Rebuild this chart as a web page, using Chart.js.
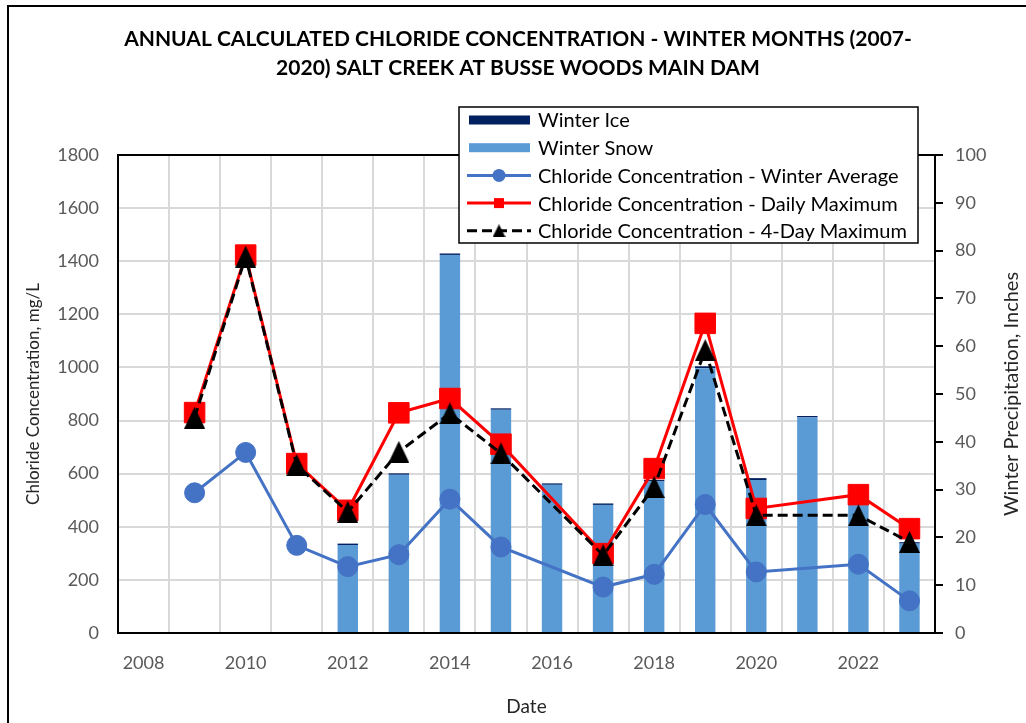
<!DOCTYPE html>
<html>
<head>
<meta charset="utf-8">
<title>Annual Calculated Chloride Concentration - Salt Creek at Busse Woods</title>
<script src="https://cdn.jsdelivr.net/npm/chart.js@4.4.1/dist/chart.umd.min.js"></script>
<style>
  body { margin: 0; background: #fff; }
  #wrap { width: 1026px; height: 723px; position: relative; }
</style>
</head>
<body>
<div id="wrap"><canvas id="chlorideChart"></canvas></div>
<script>
// data
const years = [2008, 2009, 2010, 2011, 2012, 2013, 2014, 2015, 2016, 2017, 2018, 2019, 2020, 2021, 2022, 2023];
const labelledYears = [2008, 2010, 2012, 2014, 2016, 2018, 2020, 2022];

// precipitation, inches (right axis)
const winterSnow = [null, null, null, null, 18.4, 33.1, 79.1, 46.7, 31.0, 26.8, 31.7, 55.4, 32.0, 45.1, 26.7, 18.7];
const winterIce = [null, null, null, null, 0.3, 0.3, 0.3, 0.3, 0.3, 0.3, 0.3, 0.4, 0.4, 0.3, 0.3, 0.3];

// chloride, mg/L (left axis)
const winterAverage = [null, 528, 680, 330, 250, 295, 504, 324, null, 173, 221, 484, 230, null, 259, 121];
const dailyMaximum = [null, 830, 1423, 638, 462, 829, 883, 711, null, 299, 619, 1166, 469, null, 521, 393];
const fourDayMaximum = [null, 811, 1417, 632, 456, 682, 827, 676, null, 293, 550, 1065, 443, null, 443, 343];

// axis ranges: [min, max, step]
const concAxis = [0, 1800, 200];
const precipAxis = [0, 100, 10];

Chart.defaults.font.family = "Lato, 'Liberation Sans', sans-serif";

// Excel style triangle marker, centred on its box
function triangleMarker(w, h) {
  const c = document.createElement("canvas");
  c.width = w;
  c.height = h;
  const g = c.getContext("2d");
  g.fillStyle = "#000";
  g.beginPath();
  g.moveTo(w / 2, 0);
  g.lineTo(w, h);
  g.lineTo(0, h);
  g.closePath();
  g.fill();
  return c;
}
const bigTriangle = triangleMarker(21, 22);
const smallTriangle = triangleMarker(13, 13);

const extras = {
  id: "extras",
  afterDatasetsDraw(chart) {
    const { ctx, chartArea: a } = chart;
    ctx.save();
    ctx.strokeStyle = "#000";
    ctx.lineWidth = 2;
    ctx.strokeRect(a.left, a.top, a.right - a.left, a.bottom - a.top);
    ctx.restore();
  },
  afterDraw(chart) {
    const { ctx, chartArea: a } = chart;
    ctx.save();

    // outer frame, right and bottom edges run off the picture
    ctx.strokeStyle = "#000";
    ctx.lineWidth = 2;
    ctx.beginPath();
    ctx.moveTo(8, 730);
    ctx.lineTo(8, 6);
    ctx.lineTo(1030, 6);
    ctx.stroke();

    // right axis title reads bottom to top like the left one
    ctx.fillStyle = "#262626";
    ctx.font = "20px Lato";
    ctx.textAlign = "center";
    ctx.textBaseline = "middle";
    ctx.translate(1012, (a.top + a.bottom) / 2);
    ctx.rotate(-Math.PI / 2);
    ctx.fillText("Winter Precipitation, Inches", 0, 0);
    ctx.setTransform(1, 0, 0, 1, 0, 0);

    // legend
    const bx = 459, by = 107, bw = 459, bh = 136;
    ctx.fillStyle = "#fff";
    ctx.fillRect(bx, by, bw, bh);
    ctx.strokeStyle = "#000";
    ctx.lineWidth = 1.5;
    ctx.strokeRect(bx, by, bw, bh);

    const ds = chart.data.datasets;
    const rows = [ds[1], ds[0], ds[2], ds[3], ds[4]];
    rows.forEach(function (d, i) {
      const y = 120 + i * 27.7;
      if (d.type === "bar") {
        ctx.fillStyle = d.backgroundColor;
        ctx.fillRect(469, y - 4.5, 61, 9);
      } else {
        ctx.strokeStyle = d.borderColor;
        ctx.lineWidth = 3;
        ctx.setLineDash(d.borderDash || []);
        ctx.beginPath();
        ctx.moveTo(467, y);
        ctx.lineTo(531, y);
        ctx.stroke();
        ctx.setLineDash([]);
        ctx.fillStyle = d.pointBackgroundColor;
        if (d.pointStyle === "circle") {
          ctx.beginPath();
          ctx.arc(499, y, 6.5, 0, Math.PI * 2);
          ctx.fill();
        } else if (d.pointStyle === "rect") {
          ctx.fillRect(494, y - 5, 10, 10);
        } else {
          ctx.drawImage(smallTriangle, 499 - 6.5, y - 6.5);
        }
      }
      ctx.fillStyle = "#000";
      ctx.font = "20px Lato";
      ctx.textAlign = "left";
      ctx.textBaseline = "middle";
      ctx.fillText(d.label, 538, y + 1);
    });
    ctx.restore();
  }
};

const ctx = document.getElementById("chlorideChart").getContext("2d");
const chart = new Chart(ctx, {
  type: "bar",
  data: {
    labels: years,
    datasets: [
      {
        type: "bar",
        label: "Winter Snow",
        data: winterSnow,
        yAxisID: "y1",
        stack: "precip",
        backgroundColor: "#5B9BD5",
        barPercentage: 0.4,
        categoryPercentage: 1,
        order: 4,
      },
      {
        type: "bar",
        label: "Winter Ice",
        data: winterIce,
        yAxisID: "y1",
        stack: "precip",
        backgroundColor: "#002060",
        barPercentage: 0.4,
        categoryPercentage: 1,
        order: 5,
      },
      {
        type: "line",
        label: "Chloride Concentration - Winter Average",
        data: winterAverage,
        yAxisID: "y",
        borderColor: "#4472C4",
        borderWidth: 3,
        pointStyle: "circle",
        pointRadius: 10,
        pointBorderWidth: 1,
        pointBackgroundColor: "#4472C4",
        pointBorderColor: "#4472C4",
        spanGaps: true,
        order: 3,
      },
      {
        type: "line",
        label: "Chloride Concentration - Daily Maximum",
        data: dailyMaximum,
        yAxisID: "y",
        borderColor: "#FF0000",
        borderWidth: 3,
        pointStyle: "rect",
        pointRadius: 14.5,
        pointBorderWidth: 1,
        pointBackgroundColor: "#FF0000",
        pointBorderColor: "#FF0000",
        spanGaps: true,
        order: 2,
      },
      {
        type: "line",
        label: "Chloride Concentration - 4-Day Maximum",
        data: fourDayMaximum,
        yAxisID: "y",
        borderColor: "#000000",
        borderWidth: 3,
        borderDash: [10, 5],
        pointStyle: bigTriangle,
        pointBackgroundColor: "#000000",
        spanGaps: true,
        order: 1,
      },
    ],
  },
  options: {
    responsive: true,
    maintainAspectRatio: false,
    animation: false,
    layout: { padding: { left: 10, right: 0, top: 0, bottom: 0 } },
    plugins: {
      legend: { display: false },
      tooltip: { enabled: false },
      title: {
        display: true,
        text: [
          "ANNUAL CALCULATED CHLORIDE CONCENTRATION - WINTER MONTHS (2007-",
          "2020) SALT CREEK AT BUSSE WOODS MAIN DAM",
        ],
        color: "#000",
        font: { size: 21, weight: "bold", lineHeight: "29px" },
        padding: { top: 25, bottom: 72 },
      },
    },
    scales: {
      x: {
        stacked: true,
        offset: true,
        grid: { offset: true, color: "#d9d9d9", lineWidth: 2, drawTicks: false },
        border: { display: true, color: "#000", width: 2 },
        ticks: {
          autoSkip: false,
          maxRotation: 0,
          padding: 19,
          color: "#595959",
          font: { size: 18 },
          callback: function (value, index) {
            const yr = years[index];
            return labelledYears.includes(yr) ? String(yr) : "";
          },
        },
        title: {
          display: true,
          text: "Date",
          color: "#262626",
          font: { size: 19 },
          padding: { top: 0, bottom: 5 },
        },
        afterFit: function (scale) {
          scale.height = 90;
        },
      },
      y: {
        position: "left",
        min: concAxis[0],
        max: concAxis[1],
        ticks: {
          stepSize: concAxis[2],
          padding: 19,
          color: "#595959",
          font: { size: 18 },
          callback: function (value) {
            return String(value);
          },
        },
        grid: { color: "#d9d9d9", lineWidth: 2, drawTicks: false },
        border: { display: true, color: "#000", width: 2 },
        title: {
          display: true,
          text: "Chloride Concentration, mg/L",
          color: "#262626",
          font: { size: 17 },
          padding: { top: 13, bottom: 0 },
        },
        afterFit: function (scale) {
          scale.width = 108;
        },
      },
      y1: {
        position: "right",
        stacked: true,
        min: precipAxis[0],
        max: precipAxis[1],
        ticks: { stepSize: precipAxis[2], padding: 12, color: "#595959", font: { size: 18 } },
        grid: { drawOnChartArea: false, drawTicks: true, tickLength: 8, color: "#000", lineWidth: 2 },
        border: { display: true, color: "#000", width: 2 },
        afterFit: function (scale) {
          scale.width = 91;
        },
      },
    },
  },
  plugins: [extras],
});
</script>
</body>
</html>
